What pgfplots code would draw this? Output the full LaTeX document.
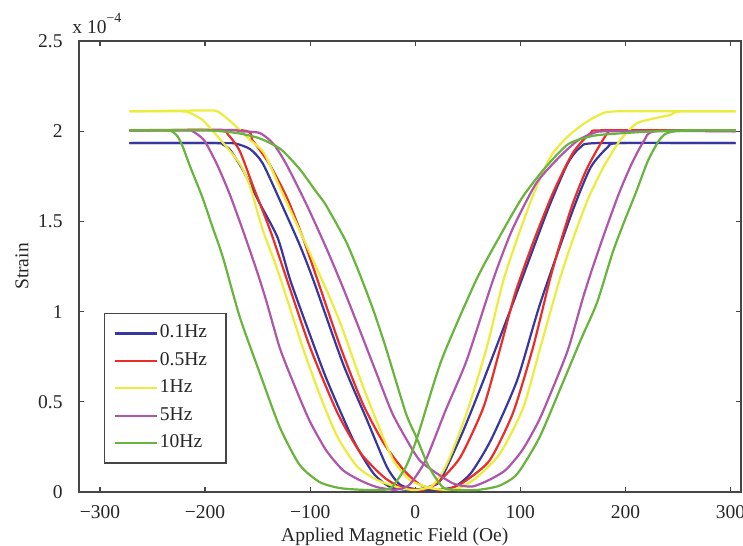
\documentclass[border=0pt]{standalone}
\usepackage{pgfplots}
\pgfplotsset{compat=1.18}
\usepackage{fontspec}
\setmainfont{Liberation Serif}
\definecolor{cblue}{RGB}{55,55,160}
\definecolor{cred}{RGB}{235,45,40}
\definecolor{cyel}{RGB}{236,236,60}
\definecolor{cpur}{RGB}{175,85,170}
\definecolor{cgrn}{RGB}{105,180,60}
\definecolor{axgray}{RGB}{70,70,70}
\begin{document}
\begin{tikzpicture}
\begin{axis}[
  at={(39.5bp,27bp)}, anchor=south west,
  scale only axis, width=331bp, height=225.5bp,
  xmin=-320, xmax=310, ymin=0, ymax=2.5,
  clip mode=individual,
  xtick={-300,-200,-100,0,100,200,300},
  xticklabels={−300,−200,−100,0,100,200,300},
  ytick={0,0.5,1,1.5,2,2.5},
  yticklabels={0,0.5,1,1.5,2,2.5},
  tick align=inside,
  major tick length=2.5bp,
  axis line style={line width=0.6bp, axgray},
  tick style={line width=0.6bp, axgray},
  ticklabel style={font=\fontsize{9.8}{11}\selectfont, text=black!85},
  xticklabel style={yshift=-3.2bp},
  yticklabel style={xshift=-4.7bp},
  xlabel={Applied Magnetic Field (Oe)},
  ylabel={Strain},
  label style={font=\fontsize{9.8}{11}\selectfont, text=black!85},
  xlabel style={at={(axis description cs:0.477,-0.0998)}, anchor=center},
  ylabel style={at={(axis description cs:-0.0861,0.5)}, anchor=center},
  legend cell align=left,
  legend style={at={(axis description cs:0.038,0.397)}, anchor=north west,
    draw=axgray, line width=0.6bp, fill=white,
    font=\fontsize{9.8}{11}\selectfont, text=black!85,
    inner xsep=4.5bp, inner ysep=4.2bp, row sep=2.2bp,
    nodes={inner sep=1bp, text height=7bp, text depth=2.5bp, text width=27.5bp, align=left}},
  legend image code/.code={\draw[#1] (0bp,0bp) -- (21bp,0bp);},
  every axis plot/.append style={line width=1.1bp, smooth, tension=0.4},
]
% 0.1 Hz
\addplot[cblue] coordinates {(-272,1.934) (-190,1.934) (-183,1.925) (-176,1.895) (-164,1.784) (-148,1.60) (-131,1.41) (-119,1.175) (-102,0.90) (-84,0.62) (-59,0.288) (-40,0.105) (-24,0.028) (-5,0.011) (8,0.02) (16,0.035) (24,0.066) (45,0.33) (65,0.62) (93,1.047) (126,1.562) (145,1.82) (157,1.91) (173,1.934) (305,1.934)};
\addlegendentry{0.1Hz}
\addplot[cblue, forget plot] coordinates {(-272,1.934) (-180,1.934) (-170,1.93) (-157,1.90) (-145,1.82) (-126,1.58) (-110,1.37) (-97,1.175) (-69,0.715) (-46,0.40) (-27,0.139) (-14,0.039) (5,0.011) (18,0.011) (37,0.028) (53,0.105) (72,0.288) (97,0.62) (119,1.047) (150,1.562) (167,1.80) (183,1.91) (195,1.934) (305,1.934)};
% 0.5 Hz
\addplot[cred] coordinates {(-272,2.005) (-188,2.005) (-178,1.98) (-167,1.89) (-154,1.69) (-138,1.45) (-122,1.175) (-100,0.80) (-74,0.438) (-52,0.216) (-30,0.083) (-14,0.028) (5,0.011) (14,0.025) (24,0.066) (43,0.194) (65,0.471) (81,0.80) (95,1.10) (112,1.38) (131,1.657) (150,1.88) (167,1.99) (179,2.005) (305,2.005)};
\addlegendentry{0.5Hz}
\addplot[cred, forget plot] coordinates {(-272,2.005) (-165,2.005) (-155,1.95) (-139,1.82) (-122,1.63) (-107,1.41) (-93,1.175) (-71,0.80) (-50,0.49) (-30,0.27) (-11,0.122) (5,0.039) (24,0.011) (36,0.025) (49,0.066) (71,0.177) (93,0.438) (112,0.80) (128,1.175) (138,1.38) (150,1.60) (164,1.80) (183,1.99) (195,2.005) (305,2.005)};
% 1 Hz
\addplot[cyel] coordinates {(-272,2.11) (-222,2.11) (-214,2.10) (-202,2.06) (-185,1.95) (-167,1.82) (-157,1.69) (-145,1.45) (-131,1.23) (-107,0.80) (-90,0.526) (-74,0.305) (-55,0.139) (-36,0.066) (-14,0.022) (0,0.011) (15,0.03) (24,0.09) (33,0.194) (49,0.438) (68,0.80) (84,1.175) (101,1.47) (116,1.70) (130,1.87) (145,1.97) (160,2.04) (175,2.09) (192,2.11) (305,2.11)};
\addlegendentry{1Hz}
\addplot[cyel, forget plot] coordinates {(-272,2.11) (-200,2.115) (-189,2.112) (-181,2.08) (-173,2.04) (-157,1.95) (-144,1.88) (-129,1.69) (-110,1.45) (-93,1.23) (-80,1.06) (-69,0.90) (-52,0.62) (-36,0.382) (-21,0.177) (-5,0.066) (14,0.022) (33,0.011) (45,0.03) (59,0.083) (81,0.216) (103,0.471) (119,0.80) (137,1.17) (150,1.40) (164,1.618) (179,1.80) (195,1.95) (211,2.044) (233,2.078) (243,2.09) (252,2.11) (305,2.11)};
% 5 Hz
\addplot[cpur] coordinates {(-272,2.005) (-218,2.005) (-212,2.0) (-201,1.95) (-189,1.82) (-177,1.657) (-164,1.45) (-151,1.23) (-142,1.064) (-129,0.80) (-117,0.62) (-101,0.40) (-85,0.233) (-69,0.122) (-53,0.066) (-37,0.028) (-20,0.012) (-10,0.025) (-4,0.05) (10,0.177) (29,0.454) (49,0.731) (74,1.175) (92,1.45) (115,1.71) (137,1.856) (155,1.95) (170,1.99) (185,2.0) (305,2.0)};
\addlegendentry{5Hz}
\addplot[cpur, forget plot] coordinates {(-272,2.005) (-175,2.005) (-167,2.0) (-148,1.99) (-135,1.93) (-123,1.82) (-104,1.60) (-85,1.357) (-69,1.136) (-53,0.90) (-37,0.66) (-22,0.438) (-8,0.288) (4,0.177) (20,0.105) (37,0.045) (54,0.03) (70,0.066) (86,0.122) (102,0.233) (118,0.40) (134,0.62) (146,0.80) (159,1.064) (168,1.23) (181,1.45) (194,1.657) (206,1.82) (218,1.95) (229,2.0) (305,2.0)};
% 10 Hz
\addplot[cgrn] coordinates {(-272,2.005) (-240,2.005) (-232,2.0) (-226,1.97) (-221,1.91) (-214,1.80) (-203,1.64) (-193,1.47) (-183,1.30) (-167,0.97) (-148,0.66) (-129,0.36) (-110,0.15) (-91,0.055) (-72,0.022) (-50,0.012) (-30,0.012) (-22,0.028) (-9,0.139) (2,0.305) (25,0.731) (58,1.175) (80,1.413) (102,1.634) (124,1.80) (146,1.93) (170,1.975) (200,1.99) (230,2.0) (260,2.005) (305,2.005)};
\addlegendentry{10Hz}
\addplot[cgrn, forget plot] coordinates {(-272,2.005) (-200,2.005) (-170,1.99) (-148,1.96) (-128,1.90) (-110,1.79) (-95,1.67) (-85,1.59) (-66,1.39) (-53,1.21) (-40,1.01) (-28,0.80) (-9,0.438) (1,0.305) (13,0.139) (26,0.028) (37,0.011) (60,0.012) (80,0.035) (97,0.1) (118,0.3) (140,0.6) (158,0.85) (173,1.05) (188,1.33) (199,1.5) (210,1.66) (221,1.83) (231,1.94) (238,1.985) (248,2.0) (270,2.005) (305,2.005)};
\node[anchor=base west, font=\fontsize{9.8}{11}\selectfont, text=black!85, inner sep=0pt] at (axis description cs:-0.0106,1.0177) {x 10\raisebox{0.55em}{\fontsize{7}{8}\selectfont −4}};
\end{axis}
\pgfresetboundingbox
\useasboundingbox (0,0) rectangle (371.5bp,273bp);
\end{tikzpicture}
\end{document}
